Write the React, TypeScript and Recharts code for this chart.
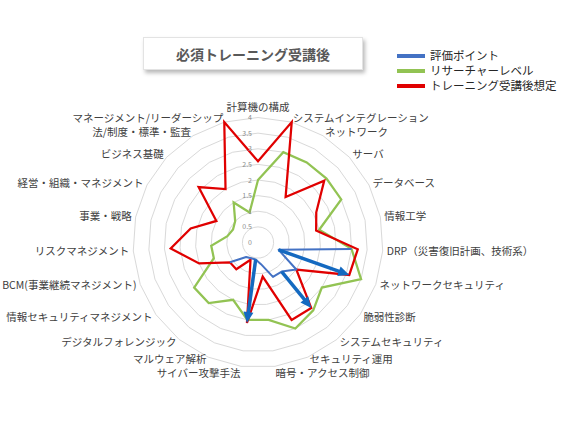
import React from 'react';
import { RadarChart, Radar, PolarGrid, PolarAngleAxis, PolarRadiusAxis } from 'recharts';

// categories, clockwise from the top
const categories = [
  '計算機の構成',
  'システムインテグレーション',
  'ネットワーク',
  'サーバ',
  'データベース',
  '情報工学',
  'DRP（災害復旧計画、技術系）',
  'ネットワークセキュリティ',
  '脆弱性診断',
  'システムセキュリティ',
  'セキュリティ運用',
  '暗号・アクセス制御',
  'サイバー攻撃手法',
  'マルウェア解析',
  'デジタルフォレンジック',
  '情報セキュリティマネジメント',
  'BCM(事業継続マネジメント)',
  'リスクマネジメント',
  '事業・戦略',
  '経営・組織・マネジメント',
  'ビジネス基礎',
  '法/制度・標準・監査',
  'マネージメント/リーダーシップ',
];

// 評価ポイント (only security items are rated)
const evaluation: (number | null)[] = [
  null, null, null, null, null, null,
  3.0, 0.7, 1.5, 1.2, 1.2, 0.7, 0.55, 0.55, 0.6, 1.1,
  null, null, null, null, null, null, null,
];

// リサーチャーレベル
const researcher = [
  2.0, 3.0, 3.0, 3.0, 3.0, 2.0, 3.0, 3.5, 2.5, 2.8, 3.0, 2.5,
  2.5, 2.0, 2.5, 2.5, 1.5, 1.5, 1.0, 0.9, 1.0, 1.5, 1.0,
];

// トレーニング受講後想定
const afterTraining = [
  2.6, 4.0, 1.7, 2.9, 2.1, 1.9, 3.2, 3.1, 1.5, 2.7, 2.7, 1.1,
  2.6, 0.6, 1.1, 1.1, 2.0, 2.8, 2.2, 1.5, 2.6, 2.0, 4.0,
];

const radiusTicks = [0, 0.5, 1, 1.5, 2, 2.5, 3, 3.5, 4];

// items where an arrow shows the step from 評価ポイント to the target
const arrowCategories = ['ネットワークセキュリティ', 'システムセキュリティ', 'サイバー攻撃手法'];

const COLORS = {
  evaluation: '#4472C4',
  researcher: '#92C353',
  afterTraining: '#E00000',
  arrow: '#1469C0',
};

const legendItems = [
  { name: '評価ポイント', color: COLORS.evaluation },
  { name: 'リサーチャーレベル', color: COLORS.researcher },
  { name: 'トレーニング受講後想定', color: COLORS.afterTraining },
];

const data = categories.map((name, i) => ({
  name,
  evaluation: evaluation[i],
  researcher: researcher[i],
  afterTraining: afterTraining[i],
}));

const AngleTick = (props: any) => {
  const { x, y, textAnchor, payload } = props;
  let dy = textAnchor === 'middle' ? -3 : 3.7;
  // spread the crowded labels at the bottom a little
  const s = Math.sin((payload.coordinate * Math.PI) / 180);
  if (s < -0.97) dy += 3.5;
  else if (s < -0.9) dy -= 1.5;
  return (
    <text x={x} y={y} dy={dy} textAnchor={textAnchor} fontSize={10.5} fill="#404040">
      {payload.value}
    </text>
  );
};

const RadiusTick = (props: any) => {
  const { x, y, payload } = props;
  return (
    <text x={x - 6} y={y + 2.5} textAnchor="end" fontSize={7} fill="#8c8c8c">
      {payload.value}
    </text>
  );
};

// open line for the rated items plus the arrows towards the target value
const EvaluationShape = (props: any) => {
  const points = (props.points || []).filter(
    (p: any) => p.payload && p.payload.evaluation != null && Number.isFinite(p.x) && Number.isFinite(p.y),
  );
  const d = points.map((p: any, i: number) => `${i === 0 ? 'M' : 'L'}${p.x},${p.y}`).join('');

  const arrows = points
    .filter((p: any) => arrowCategories.includes(p.payload.name))
    .map((p: any) => {
      const ratio = p.payload.afterTraining / p.payload.evaluation;
      const tx = p.cx + (p.x - p.cx) * ratio;
      const ty = p.cy + (p.y - p.cy) * ratio;
      const len = Math.hypot(tx - p.x, ty - p.y);
      const ux = (tx - p.x) / len;
      const uy = (ty - p.y) / len;
      const head = 11;
      const half = 5;
      const bx = tx - ux * head;
      const by = ty - uy * head;
      const headPts = `${tx},${ty} ${bx - uy * half},${by + ux * half} ${bx + uy * half},${by - ux * half}`;
      return (
        <g key={p.payload.name}>
          <line x1={p.x} y1={p.y} x2={bx + ux} y2={by + uy} stroke={COLORS.arrow} strokeWidth={3.5} />
          <polygon points={headPts} fill={COLORS.arrow} />
        </g>
      );
    });

  return (
    <g>
      <path d={d} fill="none" stroke={COLORS.evaluation} strokeWidth={2} strokeLinejoin="round" />
      {arrows}
    </g>
  );
};

export default function App() {
  return (
    <div
      style={{
        position: 'absolute',
        left: 0,
        top: 0,
        width: 574,
        height: 439,
        background: '#fff',
        fontFamily: "'Noto Sans CJK JP', sans-serif",
      }}
    >
      <div
        style={{
          position: 'absolute',
          left: 143,
          top: 37,
          width: 218,
          height: 31,
          background: '#fff',
          border: '1px solid #e3e3e3',
          boxShadow: '2px 3px 4px rgba(0,0,0,0.28)',
          display: 'flex',
          alignItems: 'center',
          justifyContent: 'center',
          fontSize: 14,
          fontWeight: 'bold',
          color: '#595959',
        }}
      >
        必須トレーニング受講後
      </div>

      <div style={{ position: 'absolute', left: 397, top: 48 }}>
        {legendItems.map((item) => (
          <div
            key={item.name}
            style={{ display: 'flex', alignItems: 'center', height: 15, lineHeight: '13px', fontSize: 11.5, color: '#262626' }}
          >
            <span style={{ width: 28, height: 4, background: item.color, marginRight: 5 }} />
            <span>{item.name}</span>
          </div>
        ))}
      </div>

      <RadarChart
        width={574}
        height={439}
        data={data}
        cx={258}
        cy={242.5}
        outerRadius={125}
        margin={{ top: 0, right: 0, bottom: 0, left: 0 }}
        style={{ position: 'absolute', left: 0, top: 0 }}
      >
        <PolarGrid gridType="polygon" radialLines={false} stroke="#d9d9d9" />
        <PolarAngleAxis dataKey="name" tick={AngleTick} tickLine={false} tickSize={4} axisLine={false} />
        <PolarRadiusAxis
          angle={90}
          domain={[0, 4]}
          ticks={radiusTicks as any}
          tickCount={9}
          tick={RadiusTick}
          tickLine={false}
          axisLine={false}
        />
        <Radar
          name="リサーチャーレベル"
          dataKey="researcher"
          stroke={COLORS.researcher}
          strokeWidth={2.25}
          fill="none"
          isAnimationActive={false}
        />
        <Radar
          name="トレーニング受講後想定"
          dataKey="afterTraining"
          stroke={COLORS.afterTraining}
          strokeWidth={2.25}
          fill="none"
          isAnimationActive={false}
        />
        <Radar
          name="評価ポイント"
          dataKey="evaluation"
          stroke={COLORS.evaluation}
          fill="none"
          shape={EvaluationShape}
          isAnimationActive={false}
        />
      </RadarChart>
    </div>
  );
}
